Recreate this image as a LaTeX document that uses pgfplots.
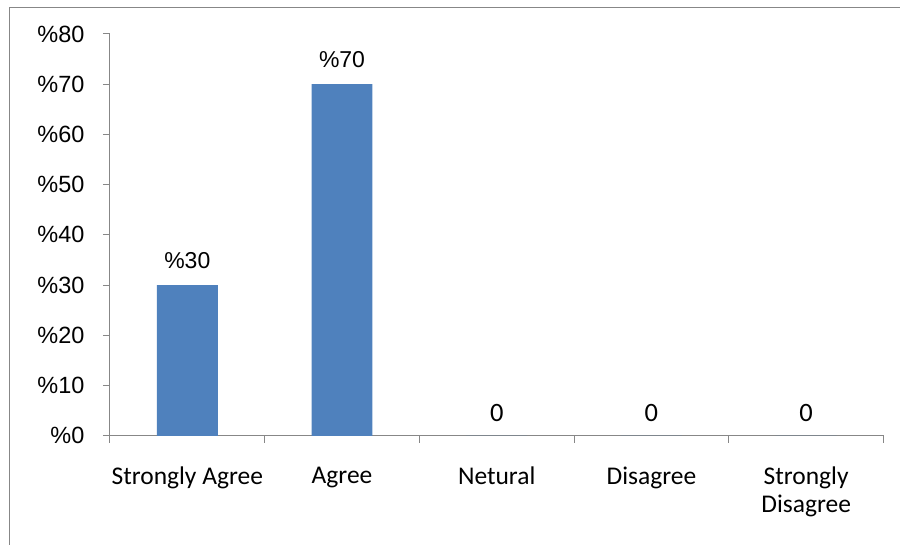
\documentclass[border=0pt]{standalone}
\usepackage{pgfplots}
\pgfplotsset{compat=1.18}
\usepackage{fontspec}
\setmainfont{Liberation Sans}
\newfontfamily\carlito{Carlito}

\definecolor{barblue}{HTML}{4F81BD}
\definecolor{axisgray}{HTML}{878787}

\begin{document}
\begin{tikzpicture}[x=1pt,y=1pt]
% page extent and chart-area frame
\path (0,0) rectangle (900,545);
\draw[axisgray, line width=1pt] (9.5,0) -- (9.5,537.5) -- (900,537.5);
\begin{axis}[
  at={(110pt,109pt)}, anchor=south west,
  scale only axis, width=774pt, height=402pt,
  xmin=-0.5, xmax=4.5, ymin=0, ymax=80,
  axis x line*=bottom, axis y line*=left,
  axis line style={axisgray, line width=1pt, -},
  tick align=outside, major tick length=7pt,
  tick style={axisgray, line width=1pt},
  xtick={-0.5,0.5,1.5,2.5,3.5,4.5},
  x tick label as interval,
  xticklabels={Strongly Agree, Agree, Netural, Disagree, {Strongly\\Disagree}},
  xticklabel style={font=\carlito\fontsize{25.5}{28}\selectfont, align=center, anchor=north, text=black, yshift=-21pt},
  ytick={0,10,...,80},
  yticklabel={\%\pgfmathprintnumber{\tick}},
  yticklabel style={font=\fontsize{23.5}{26}\selectfont, text=black, xshift=-15pt},
  /pgf/number format/assume math mode=true,
]
% answered categories
\addplot[ybar, bar width=61pt, bar shift=0pt, fill=barblue, draw=none,
  nodes near coords={\%\pgfmathprintnumber{\pgfplotspointmeta}},
  nodes near coords style={font=\fontsize{23}{26}\selectfont, text=black, anchor=south, yshift=13pt}]
  coordinates {(0,30) (1,70)};
% categories nobody chose
\addplot[ybar, bar width=61pt, bar shift=0pt, fill=barblue, draw=none,
  nodes near coords={\pgfmathprintnumber{\pgfplotspointmeta}},
  nodes near coords style={font=\carlito\fontsize{26.5}{28}\selectfont, text=black, anchor=south, yshift=11pt}]
  coordinates {(2,0) (3,0) (4,0)};
\end{axis}
\end{tikzpicture}
\end{document}
